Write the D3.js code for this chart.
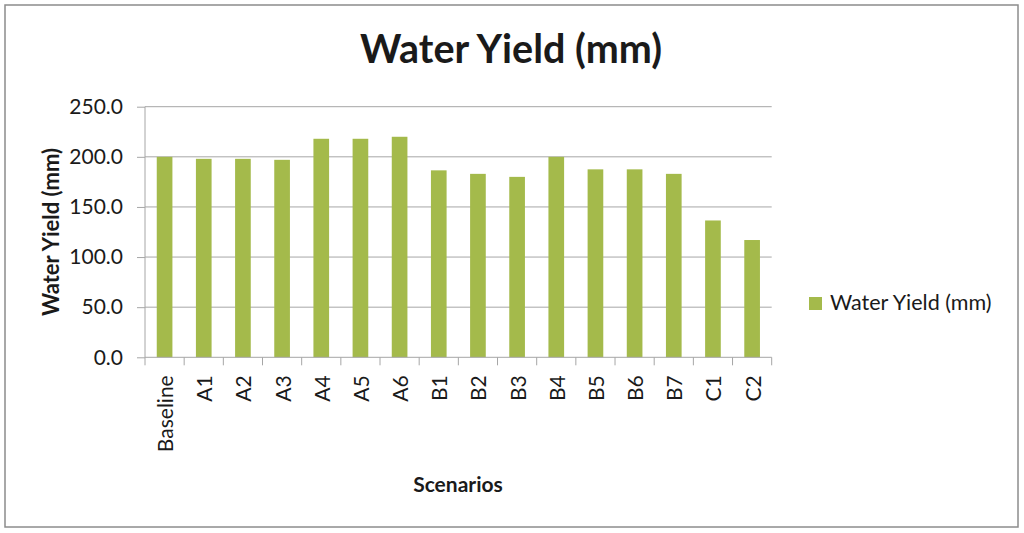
<!DOCTYPE html>
<html>
<head>
<meta charset="utf-8">
<script src="https://cdn.jsdelivr.net/npm/d3@7"></script>
<style>
  html, body { margin: 0; padding: 0; background: #fff; }
  svg { display: block; }
  text { font-family: Lato, "Open Sans", sans-serif; fill: #1a1a1a; }
</style>
</head>
<body>
<svg id="chart" width="1024" height="533"></svg>
<script>
const categories = ["Baseline","A1","A2","A3","A4","A5","A6","B1","B2","B3","B4","B5","B6","B7","C1","C2"];
const waterYield = [200, 198, 198, 197, 218, 218, 220, 186.5, 183, 180, 200, 187.5, 187.5, 183, 136.5, 117];
const yTicks = [0, 50, 100, 150, 200, 250];
const seriesName = "Water Yield (mm)";
const chartTitle = "Water Yield (mm)";
const xTitle = "Scenarios";
const yTitle = "Water Yield (mm)";

const svg = d3.select("#chart");
const gridColor = "#a6a6a6";
const barColor = "#A4BA4B";

// outer border
svg.append("rect").attr("x", 5).attr("y", 5).attr("width", 1013).attr("height", 522)
  .attr("fill", "#fff").attr("stroke", "#8c8c8c").attr("stroke-width", 1.5);

const x = d3.scaleBand().domain(categories).range([145, 771.7]).padding(0);
const y = d3.scaleLinear().domain([0, 250]).range([357.3, 106.7]);

// gridlines
svg.append("g").selectAll("line").data(yTicks.filter(d => d > 0)).join("line")
  .attr("x1", 145).attr("x2", 771.7)
  .attr("y1", d => y(d)).attr("y2", d => y(d))
  .attr("stroke", gridColor).attr("stroke-width", 1);

// bars
const bw = x.bandwidth() * 0.4;
svg.append("g").selectAll("rect").data(categories).join("rect")
  .attr("x", (d) => x(d) + (x.bandwidth() - bw) / 2)
  .attr("width", bw)
  .attr("y", (d, i) => y(waterYield[i]))
  .attr("height", (d, i) => y(0) - y(waterYield[i]))
  .attr("fill", barColor);

// y axis
const yAxis = d3.axisLeft(y).tickValues(yTicks).tickSize(8).tickPadding(14).tickFormat(d3.format(".1f"));
const gy = svg.append("g").attr("transform", "translate(145,0)").call(yAxis);
gy.select(".domain").attr("stroke", gridColor).attr("d", `M-0,${y(250)}V${y(0)}`);
gy.selectAll(".tick line").attr("stroke", gridColor);
gy.selectAll(".tick text").attr("font-size", 21).attr("fill", "#1a1a1a").attr("font-family", "Lato, sans-serif");

// x axis
const xAxis = d3.axisBottom(x).tickSize(0).tickFormat(d => d);
const gx = svg.append("g").attr("transform", `translate(0,${y(0)})`).call(xAxis);
gx.select(".domain").attr("stroke", gridColor).attr("d", `M145,0H771.7`);
// boundary ticks
const bounds = categories.map(c => x(c)).concat([x.range()[1]]);
gx.selectAll(".btick").data(bounds).join("line").attr("class", "btick")
  .attr("x1", d => d).attr("x2", d => d).attr("y1", 0).attr("y2", 8)
  .attr("stroke", gridColor);
gx.selectAll(".tick text")
  .attr("font-size", 21).attr("font-family", "Lato, sans-serif").attr("fill", "#1a1a1a")
  .attr("text-anchor", "end")
  .attr("transform", "translate(8.5,18) rotate(-90)")
  .attr("x", 0).attr("y", 0).attr("dy", 0);

// title
svg.append("text").attr("x", 511).attr("y", 63).attr("text-anchor", "middle")
  .attr("font-size", 39.5).attr("font-weight", "bold").text(chartTitle);

// axis titles
svg.append("text").attr("x", 458).attr("y", 492).attr("text-anchor", "middle")
  .attr("font-size", 21).attr("font-weight", "bold").text(xTitle);
svg.append("text").attr("transform", "translate(59,232) rotate(-90)").attr("text-anchor", "middle")
  .attr("font-size", 22).attr("font-weight", "bold").text(yTitle);

// legend
const lg = svg.append("g");
lg.append("rect").attr("x", 809).attr("y", 297).attr("width", 13).attr("height", 13).attr("fill", barColor);
lg.append("text").attr("x", 830).attr("y", 310).attr("font-size", 21.5).text(seriesName);
</script>
</body>
</html>
